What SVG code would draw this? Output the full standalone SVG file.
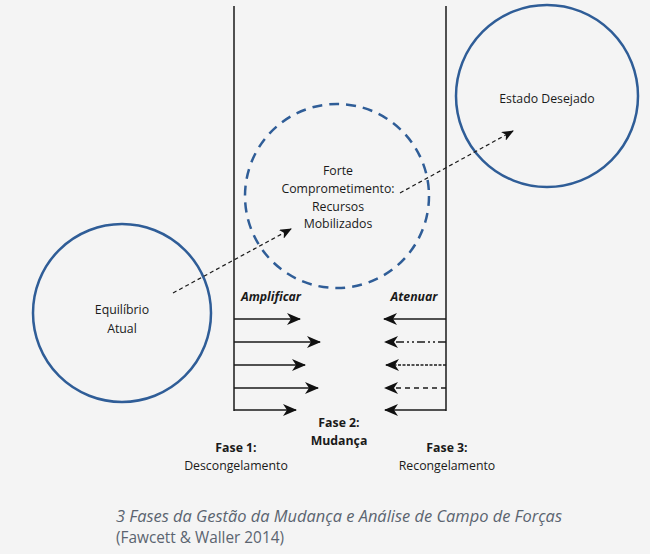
<svg xmlns="http://www.w3.org/2000/svg" width="650" height="554" viewBox="0 0 650 554">
<style>
.t{font-family:"Open Sans","Noto Sans",sans-serif;font-size:12.3px;fill:#1a1a1a;text-anchor:middle}
.b{font-weight:bold}
.bi{font-weight:bold;font-style:italic}
.cap{font-family:"Open Sans","Noto Sans",sans-serif;font-size:16.5px;fill:#5b6470}
.c{fill:none;stroke:#2f5d97;stroke-width:2.5}
.ln{stroke:#1a1a1a;stroke-width:1.5;fill:none}
.dl{stroke:#1a1a1a;stroke-width:1.2;fill:none;stroke-dasharray:4 3}
</style>
<defs>
<marker id="ah" viewBox="0 0 14 12" refX="13" refY="6" markerWidth="14" markerHeight="12" markerUnits="userSpaceOnUse" orient="auto">
<path d="M0,0 L14,6 L0,12 L4,6 Z" fill="#111"/>
</marker>
<marker id="ahs" viewBox="0 0 12 10" refX="11" refY="5" markerWidth="12" markerHeight="10" markerUnits="userSpaceOnUse" orient="auto">
<path d="M0,0 L12,5 L0,10 L3,5 Z" fill="#111"/>
</marker>
</defs>
<rect width="650" height="554" fill="#f4f4f4"/>
<g id="walls">
<line class="ln" x1="234" y1="6" x2="234" y2="411"/>
<line class="ln" x1="446" y1="6" x2="446" y2="411"/>
</g>
<g id="equilibrio">
<circle class="c" cx="122" cy="313" r="89"/>
<text class="t" x="122" y="314">Equilíbrio</text>
<text class="t" x="122" y="333">Atual</text>
</g>
<g id="forte">
<circle class="c" cx="337" cy="196" r="92" stroke-dasharray="10 7"/>
<text class="t" x="338" y="175">Forte</text>
<text class="t" x="338" y="193">Comprometimento:</text>
<text class="t" x="338" y="211">Recursos</text>
<text class="t" x="338" y="228">Mobilizados</text>
</g>
<g id="desejado">
<circle class="c" cx="547" cy="96" r="91"/>
<text class="t" x="547" y="103">Estado Desejado</text>
</g>
<g id="connectors">
<line class="dl" x1="173" y1="293" x2="291" y2="229" marker-end="url(#ahs)"/>
<line class="dl" x1="400" y1="193" x2="513" y2="131" marker-end="url(#ahs)"/>
<line class="ln" x1="234" y1="319" x2="300" y2="319" marker-end="url(#ah)"/>
<line class="ln" x1="234" y1="342" x2="320" y2="342" marker-end="url(#ah)"/>
<line class="ln" x1="234" y1="365" x2="305" y2="365" marker-end="url(#ah)"/>
<line class="ln" x1="234" y1="388" x2="318" y2="388" marker-end="url(#ah)"/>
<line class="ln" x1="234" y1="410" x2="296" y2="410" marker-end="url(#ah)"/>
<line class="ln" x1="446" y1="319" x2="384" y2="319" marker-end="url(#ah)"/>
<line class="ln" x1="446" y1="342" x2="385" y2="342" stroke-dasharray="8 3 2 3 2 3" marker-end="url(#ah)"/>
<line class="ln" x1="446" y1="365" x2="386" y2="365" stroke-width="1.2" stroke-dasharray="3 1.5" marker-end="url(#ah)"/>
<line class="ln" x1="446" y1="388" x2="385" y2="388" stroke-dasharray="5 4" marker-end="url(#ah)"/>
<line class="ln" x1="446" y1="410" x2="385" y2="410" marker-end="url(#ah)"/>
</g>
<g id="labels">
<text class="t bi" x="271" y="301">Amplificar</text>
<text class="t bi" x="414" y="301">Atenuar</text>
<text class="t b" x="339" y="427">Fase 2:</text>
<text class="t b" x="339" y="445">Mudança</text>
<text class="t b" x="236" y="452">Fase 1:</text>
<text class="t" x="236" y="470">Descongelamento</text>
<text class="t b" x="447" y="452">Fase 3:</text>
<text class="t" x="447" y="470">Recongelamento</text>
</g>
<g id="caption">
<text class="cap" x="116" y="522" font-style="italic" textLength="446" lengthAdjust="spacingAndGlyphs">3 Fases da Gestão da Mudança e Análise de Campo de Forças</text>
<text class="cap" x="116" y="543" textLength="168" lengthAdjust="spacingAndGlyphs">(Fawcett &amp; Waller 2014)</text>
</g>
</svg>
